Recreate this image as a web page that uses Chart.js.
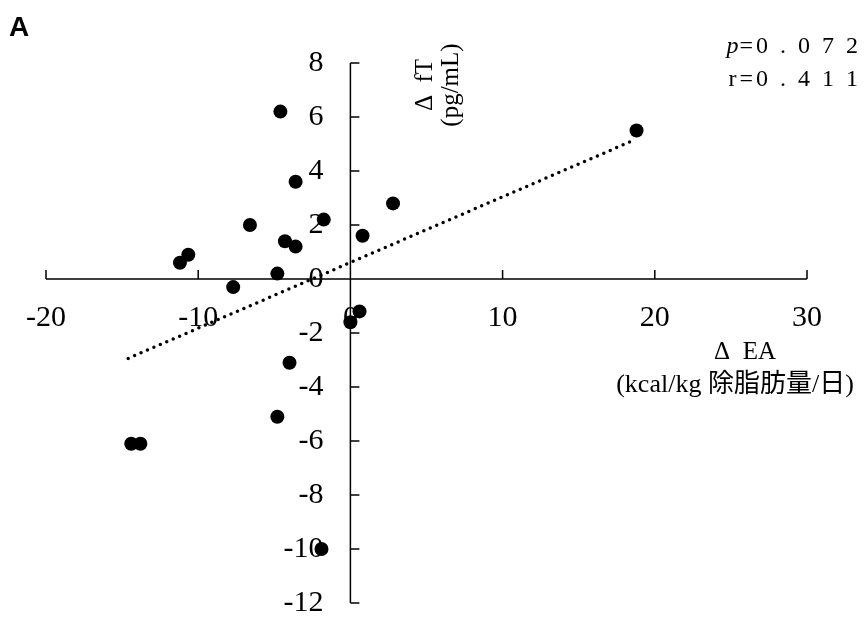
<!DOCTYPE html>
<html lang="ja">
<head>
<meta charset="UTF-8">
<title>ΔEA vs ΔfT</title>
<script src="https://cdn.jsdelivr.net/npm/chart.js"></script>
<style>
  html, body { margin: 0; padding: 0; background: #fff; }
  #wrap { width: 864px; height: 617px; }
</style>
</head>
<body>
<div id="wrap"><canvas id="scatterChart"></canvas></div>
<script>
// ΔEA (kcal/kg 除脂肪量/日) and ΔfT (pg/mL) for each subject
const deltaEA = [-4.6, -3.6, -6.6, -1.75, -4.3, -3.6, 0.8, 2.8, 18.8, -10.65, -11.2, -4.8, -7.7, 0.6, 0.0, -4.0, -4.8, -14.4, -13.8, -1.9];
const deltaFT = [6.2, 3.6, 2.0, 2.2, 1.4, 1.2, 1.6, 2.8, 5.5, 0.9, 0.6, 0.2, -0.3, -1.2, -1.6, -3.1, -5.1, -6.1, -6.1, -10.0];

// regression line end points
const trendEA = [-14.6, 18.7];
const trendFT = [-2.94, 5.16];

const xTicks = [-20, -10, 0, 10, 20, 30];
const yTicks = [-12, -10, -8, -6, -4, -2, 0, 2, 4, 6, 8];

const panelLabel = 'A';
const statP = '=0 . 0 7 2';
const statR = 'r=0 . 4 1 1';
const xTitle = ['Δ  EA', '(kcal/kg 除脂肪量/日)'];
const yTitle = ['Δ  fT', '(pg/mL)'];

const SERIF = '"Liberation Serif", "Times New Roman", serif';

const crossAxes = {
  id: 'crossAxes',
  beforeDatasetsDraw(chart) {
    const { ctx, scales: { x, y } } = chart;
    const x0 = x.getPixelForValue(0), y0 = y.getPixelForValue(0);
    ctx.save();
    ctx.strokeStyle = '#000';
    ctx.lineWidth = 1.5;
    ctx.beginPath();
    ctx.moveTo(x.getPixelForValue(xTicks[0]), y0);
    ctx.lineTo(x.getPixelForValue(xTicks[xTicks.length - 1]), y0);
    ctx.moveTo(x0, y.getPixelForValue(yTicks[0]));
    ctx.lineTo(x0, y.getPixelForValue(yTicks[yTicks.length - 1]));
    xTicks.forEach(v => {
      const px = x.getPixelForValue(v);
      ctx.moveTo(px, y0); ctx.lineTo(px, y0 - 9);
    });
    yTicks.forEach(v => {
      const py = y.getPixelForValue(v);
      ctx.moveTo(x0, py); ctx.lineTo(x0 + 9, py);
    });
    ctx.stroke();

    ctx.fillStyle = '#000';
    ctx.font = '30px ' + SERIF;
    ctx.textBaseline = 'middle';
    ctx.textAlign = 'right';
    yTicks.forEach(v => ctx.fillText(String(v), x0 - 27, y.getPixelForValue(v)));
    ctx.textAlign = 'center';
    xTicks.forEach(v => ctx.fillText(String(v), x.getPixelForValue(v), y0 + 39));
    ctx.restore();
  },
  afterDraw(chart) {
    const { ctx } = chart;
    ctx.save();
    ctx.fillStyle = '#000';
    ctx.textBaseline = 'middle';

    ctx.font = 'bold 28px "Liberation Sans", Arial, sans-serif';
    ctx.textAlign = 'left';
    ctx.fillText(panelLabel, 9, 28);

    // statistics, top right
    ctx.font = '24px ' + SERIF;
    ctx.textAlign = 'right';
    ctx.letterSpacing = '3px';
    const pw = ctx.measureText(statP).width;
    ctx.fillText(statP, 861, 47);
    ctx.fillText(statR, 861, 80);
    ctx.letterSpacing = '0px';
    ctx.font = 'italic 24px ' + SERIF;
    ctx.fillText('p', 860 - pw, 47);

    // x axis title
    ctx.textAlign = 'center';
    ctx.font = '25px ' + SERIF;
    ctx.fillText(xTitle[0], 745, 352);
    ctx.font = '26px ' + SERIF + ', "Noto Sans CJK JP"';
    ctx.fillText(xTitle[1], 735, 385);

    // y axis title, rotated
    ctx.font = '25px ' + SERIF;
    ctx.translate(425, 85);
    ctx.rotate(-Math.PI / 2);
    ctx.fillText(yTitle[0], 0, 0);
    ctx.fillText(yTitle[1], 0, 26);
    ctx.restore();
  }
};

const points = deltaEA.map((v, i) => ({ x: v, y: deltaFT[i] }));
const trend = trendEA.map((v, i) => ({ x: v, y: trendFT[i] }));

new Chart(document.getElementById('scatterChart'), {
  type: 'scatter',
  data: {
    datasets: [
      {
        label: 'ΔfT',
        data: points,
        backgroundColor: '#000',
        borderWidth: 0,
        pointRadius: 7,
        order: 0
      },
      {
        label: 'trend',
        data: trend,
        showLine: true,
        pointRadius: 0,
        borderColor: '#000',
        borderWidth: 3.5,
        borderDash: [0, 7],
        borderCapStyle: 'round',
        fill: false,
        order: 1
      }
    ]
  },
  options: {
    responsive: true,
    maintainAspectRatio: false,
    animation: false,
    devicePixelRatio: 1,
    layout: { padding: { left: 46, right: 57, top: 63, bottom: 14 } },
    plugins: { legend: { display: false }, tooltip: { enabled: false } },
    scales: {
      x: { type: 'linear', min: -20, max: 30, display: false },
      y: { type: 'linear', min: -12, max: 8, display: false }
    }
  },
  plugins: [crossAxes]
});
</script>
</body>
</html>
